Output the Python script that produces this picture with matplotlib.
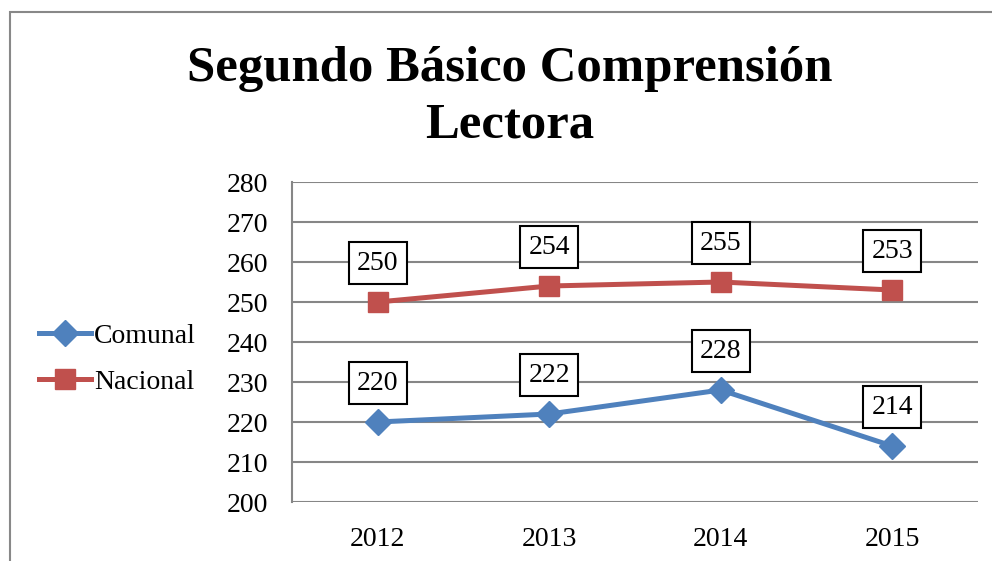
import matplotlib
matplotlib.use("Agg")
import matplotlib.pyplot as plt
from matplotlib.patches import Rectangle

years = ["2012", "2013", "2014", "2015"]
comunal = [220, 222, 228, 214]
nacional = [250, 254, 255, 253]
series_names = ["Comunal", "Nacional"]
yticks = [200, 210, 220, 230, 240, 250, 260, 270, 280]
title = "Segundo Básico Comprensión\nLectora"

plt.rcParams['font.family'] = ['Liberation Serif', 'DejaVu Serif']

fig = plt.figure(figsize=(9.92, 5.61), dpi=100)
fig.patches.append(Rectangle((10/992, -0.1), 1.2, 1 - 12/561 + 0.1, transform=fig.transFigure,
                             fill=False, edgecolor='#888888', linewidth=1.5))

ax = fig.add_axes([292/992, 59/561, 686/992, 320/561])
x = list(range(len(years)))
blue = '#4F81BD'
red = '#C0504D'
ax.plot(x, comunal, color=blue, lw=3.6, marker='D', ms=13, label=series_names[0], zorder=3)
ax.plot(x, nacional, color=red, lw=3.6, marker='s', ms=14.5, label=series_names[1], zorder=3)

ax.set_xlim(-0.5, len(years) - 0.5)
ax.set_ylim(200, 280)
ax.set_yticks(yticks)
ax.set_xticks(x)
ax.set_xticklabels(years)
ax.tick_params(axis='both', length=0, labelsize=20)
ax.tick_params(axis='y', pad=17)
ax.tick_params(axis='x', pad=18)
ax.grid(axis='y', color='#868686', lw=1.5)
ax.set_axisbelow(True)
for s in ['top', 'right', 'bottom']:
    ax.spines[s].set_visible(False)
ax.spines['left'].set_color('#868686')
ax.spines['left'].set_linewidth(1.5)

for series in (comunal, nacional):
    for xi, v in zip(x, series):
        ax.annotate(str(v), (xi, v), xytext=(0, 28), textcoords='offset points',
                    ha='center', va='center', fontsize=20, zorder=4,
                    bbox=dict(boxstyle='square,pad=0.3', fc='white', ec='black', lw=1.5))

fig.text(510/992, 1 - 97/561, title, ha='center', va='center', fontsize=36.5,
         fontweight='bold', linespacing=1.3)

leg = fig.legend(loc='center left', bbox_to_anchor=(28/992, 1 - 359/561), frameon=False,
                 fontsize=20, handlelength=1.85, handletextpad=0.12, labelspacing=0.75,
                 borderaxespad=0)

fig.savefig('out.png', dpi=100)
